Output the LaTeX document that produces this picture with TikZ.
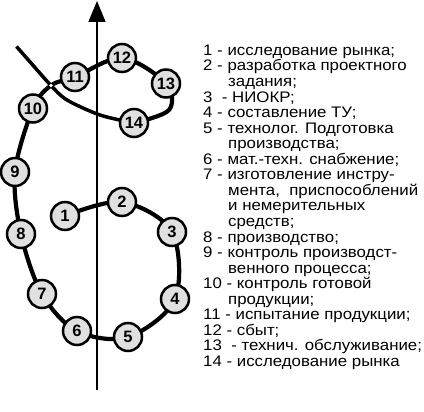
\documentclass[tikz,border=0pt]{standalone}
\usepackage{fontspec}
\setmainfont{Liberation Sans}
\newfontfamily\legfont[FakeStretch=1.1]{Liberation Sans}
\usetikzlibrary{arrows.meta}
\newcommand\legind{\hspace*{25pt}}
\begin{document}
\begin{tikzpicture}[x=1pt,y=-1pt,
  stage/.style={circle,draw=black,line width=2.5pt,fill=black!12,minimum size=28pt,inner sep=0pt,
    font=\fontsize{16.5}{16.5}\selectfont\bfseries},
  chain/.style={line width=4.2pt,line cap=round,line join=round},
  tailline/.style={line width=3.5pt,line cap=butt},
  axisline/.style={line width=1.6pt,-{Triangle[length=21pt,width=17pt]}}]
\useasboundingbox (0,0) rectangle (424,412);
% axis
\coordinate (axb) at (97,390);
\coordinate (axt) at (97,1);
\draw[axisline] (axb) -- (axt);
% positions
\coordinate (p1) at (65,216);
\coordinate (p2) at (122,202);
\coordinate (p3) at (172,232);
\coordinate (p4) at (175,299);
\coordinate (p5) at (128,337);
\coordinate (p6) at (77,331);
\coordinate (p7) at (42,294);
\coordinate (p8) at (21,234);
\coordinate (p9) at (15,172);
\coordinate (p10) at (33,108.5);
\coordinate (cross) at (51,85.5);
\coordinate (p11) at (75,77);
\coordinate (p12) at (122,58);
\coordinate (p13) at (166,83.5);
\coordinate (m13) at (169,110);
\coordinate (p14) at (134,123);
\coordinate (t1) at (100,115);
\coordinate (t2) at (67,100);
\coordinate (t3) at (31,63);
\coordinate (tend) at (16.5,46.5);
% tail
\draw[tailline] plot[smooth,tension=0.5] coordinates {(p14) (t1) (t2) (cross) (t3) (tend)};
% main chain
\draw[chain] plot[smooth,tension=0.55] coordinates {(p1) (p2) (p3) (p4) (p5) (p6) (p7) (p8) (p9) (p10) (cross) (p11) (p12) (p13) (m13) (p14)};
\fill[white] (cross) circle (1.8);
% stages
\foreach \i in {1,...,14}{
  \node[stage] (n\i) at (p\i) {\i};
}
% legend
\node[anchor=north west,inner sep=0pt,align=left,font=\legfont\fontsize{15.3}{15.55}\selectfont] (legend) at (203,44.7) {%
1 - исследование рынка;\\
2 - разработка проектного\\
\legind задания;\\
3 \ - НИОКР;\\
4 - составление ТУ;\\
5 - технолог. Подготовка\\
\legind производства;\\
6 - мат.-техн. снабжение;\\
7 - изготовление инстру-\\
\legind мента,\ \ приспособлений\\
\legind и немерительных\\
\legind средств;\\
8 - производство;\\
9 - контроль производст-\\
\legind венного процесса;\\
10 - контроль готовой\\
\legind продукции;\\
11 - испытание продукции;\\
12 - сбыт;\\
13 \ - технич. обслуживание;\\
14 - исследование рынка};
\end{tikzpicture}
\end{document}
